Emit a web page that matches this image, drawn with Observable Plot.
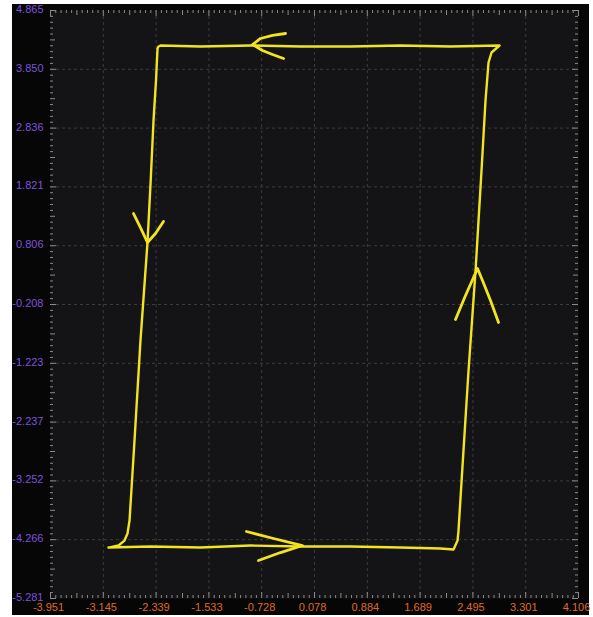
<!DOCTYPE html>
<html>
<head>
<meta charset="utf-8">
<script src="https://cdn.jsdelivr.net/npm/d3@7"></script>
<script src="https://cdn.jsdelivr.net/npm/@observablehq/plot@0.6"></script>
<style>
  html, body { margin: 0; padding: 0; background: #ffffff; }
  #chart { position: absolute; left: 12px; top: 4px; }
  #chart svg { overflow: visible; }
</style>
</head>
<body>
<div id="chart"></div>
<script>
// Tick labels (as printed)
const xTickLabels = ["-3.951", "-3.145", "-2.339", "-1.533", "-0.728", "0.078", "0.884", "1.689", "2.495", "3.301", "4.106"];
const yTickLabels = ["4.865", "3.850", "2.836", "1.821", "0.806", "-0.208", "-1.223", "-2.237", "-3.252", "-4.266", "-5.281"];
const xTicks = xTickLabels.map(Number);
const yTicks = yTickLabels.map(Number);

// Main hand-drawn loop (bottom → right → top → left)
const loopX = [-3.066, -2.425, -1.662, -0.899, -0.136, 0.627, 1.390, 2.000, 2.199, 2.260,
               2.275, 2.351, 2.428, 2.535, 2.626, 2.687, 2.733, 2.779, 2.901,
               2.153, 1.390, 0.627, -0.136, -0.899, -1.662, -2.272, -2.303,
               -2.318, -2.341, -2.379, -2.422, -2.471, -2.578, -2.669, -2.745, -2.776, -2.822, -2.913, -3.066];
const loopY = [-4.402, -4.384, -4.402, -4.367, -4.384, -4.384, -4.402, -4.419, -4.436, -4.281,
               -4.108, -2.728, -1.347, 0.378, 2.104, 3.312, 3.968, 4.140, 4.261,
               4.244, 4.261, 4.244, 4.244, 4.261, 4.244, 4.261, 4.244,
               4.209, 3.657, 2.967, 1.931, 0.862, -0.830, -2.555, -3.936, -4.160, -4.281, -4.367, -4.402];

// Arrow heads (barb end → tip → other barb end)
const arrowTopX = [-0.365, -0.563, -0.746, -0.868, -0.716, -0.563, -0.395];
const arrowTopY = [4.468, 4.434, 4.382, 4.278, 4.175, 4.106, 4.037];
const arrowBottomX = [-0.960, -0.548, -0.105, -0.441, -0.777];
const arrowBottomY = [-4.125, -4.246, -4.367, -4.488, -4.626];
const arrowLeftX = [-2.684, -2.578, -2.471, -2.349, -2.227];
const arrowLeftY = [1.362, 1.120, 0.862, 1.017, 1.224];
const arrowRightX = [2.229, 2.382, 2.565, 2.641, 2.763, 2.886];
const arrowRightY = [-0.467, -0.053, 0.413, 0.206, -0.139, -0.519];

const series = [
  ["loop", loopX, loopY, 2.4],
  ["top", arrowTopX, arrowTopY, 2.8],
  ["bottom", arrowBottomX, arrowBottomY, 2.8],
  ["left", arrowLeftX, arrowLeftY, 2.8],
  ["right", arrowRightX, arrowRightY, 2.8]
];
const table = series.flatMap(([id, xs, ys, w]) => xs.map((x, i) => ({id, x, y: ys[i], w})));

const W = 577, H = 611;
const mL = 38, mR = 11, mT = 6, mB = 17;
const innerW = W - mL - mR, innerH = H - mT - mB;

const xDomain = [xTicks[0], xTicks[xTicks.length - 1]];
const yDomain = [yTicks[yTicks.length - 1], yTicks[0]];
const minorX = d3.range(0, 101).map(i => xDomain[0] + i * (xDomain[1] - xDomain[0]) / 100);
const minorY = d3.range(0, 101).map(i => yDomain[0] + i * (yDomain[1] - yDomain[0]) / 100);
const isMid = (i) => i % 10 === 5;
const minorXs = minorX.filter((d, i) => i % 10 !== 0 && !isMid(i));
const midXs = minorX.filter((d, i) => isMid(i));
const majXs = minorX.filter((d, i) => i % 10 === 0);
const minorYs = minorY.filter((d, i) => i % 10 !== 0 && !isMid(i));
const midYs = minorY.filter((d, i) => isMid(i));
const majYs = minorY.filter((d, i) => i % 10 === 0);

const tickColor = "#8a8a8a";
const edgeTicksX = (vals, len) => [
  Plot.ruleX(vals, {stroke: tickColor, strokeWidth: 1, insetTop: innerH - len}),
  Plot.ruleX(vals, {stroke: tickColor, strokeWidth: 1, insetBottom: innerH - len})
];
const edgeTicksY = (vals, len) => [
  Plot.ruleY(vals, {stroke: tickColor, strokeWidth: 1, insetRight: innerW - len}),
  Plot.ruleY(vals, {stroke: tickColor, strokeWidth: 1, insetLeft: innerW - len})
];

const chart = Plot.plot({
  width: W,
  height: H,
  marginLeft: mL,
  marginRight: mR,
  marginTop: mT,
  marginBottom: mB,
  style: {background: "#060606", fontFamily: "Liberation Sans, Arial, sans-serif"},
  x: {domain: xDomain},
  y: {domain: yDomain},
  marks: [
    Plot.frame({fill: "#141416", stroke: null}),
    Plot.ruleX(xTicks.slice(1, -1), {stroke: "#3c3c3e", strokeDasharray: "3,3", strokeWidth: 1}),
    Plot.ruleY(yTicks.slice(1, -1), {stroke: "#3c3c3e", strokeDasharray: "3,3", strokeWidth: 1}),
    ...edgeTicksX(minorXs, 3),
    ...edgeTicksX(midXs, 5),
    ...edgeTicksX(majXs, 6),
    ...edgeTicksY(minorYs, 3),
    ...edgeTicksY(midYs, 5),
    ...edgeTicksY(majYs, 6),
    Plot.line(table, {x: "x", y: "y", z: "id", stroke: "#f2e41e", strokeWidth: d => d.w, strokeLinecap: "round", strokeLinejoin: "round"}),
    Plot.axisX({ticks: xTicks, tickFormat: (d, i) => xTickLabels[i], tickSize: 0, tickPadding: 5, dx: -2,
      fill: "#e06a22", fontSize: 11, label: null}),
    Plot.axisY({ticks: yTicks, tickFormat: (d, i) => yTickLabels[i], tickSize: 0, tickPadding: 7, dy: -1,
      fill: "#7d52dc", fontSize: 11, label: null})
  ]
});
document.getElementById("chart").appendChild(chart);
</script>
</body>
</html>
